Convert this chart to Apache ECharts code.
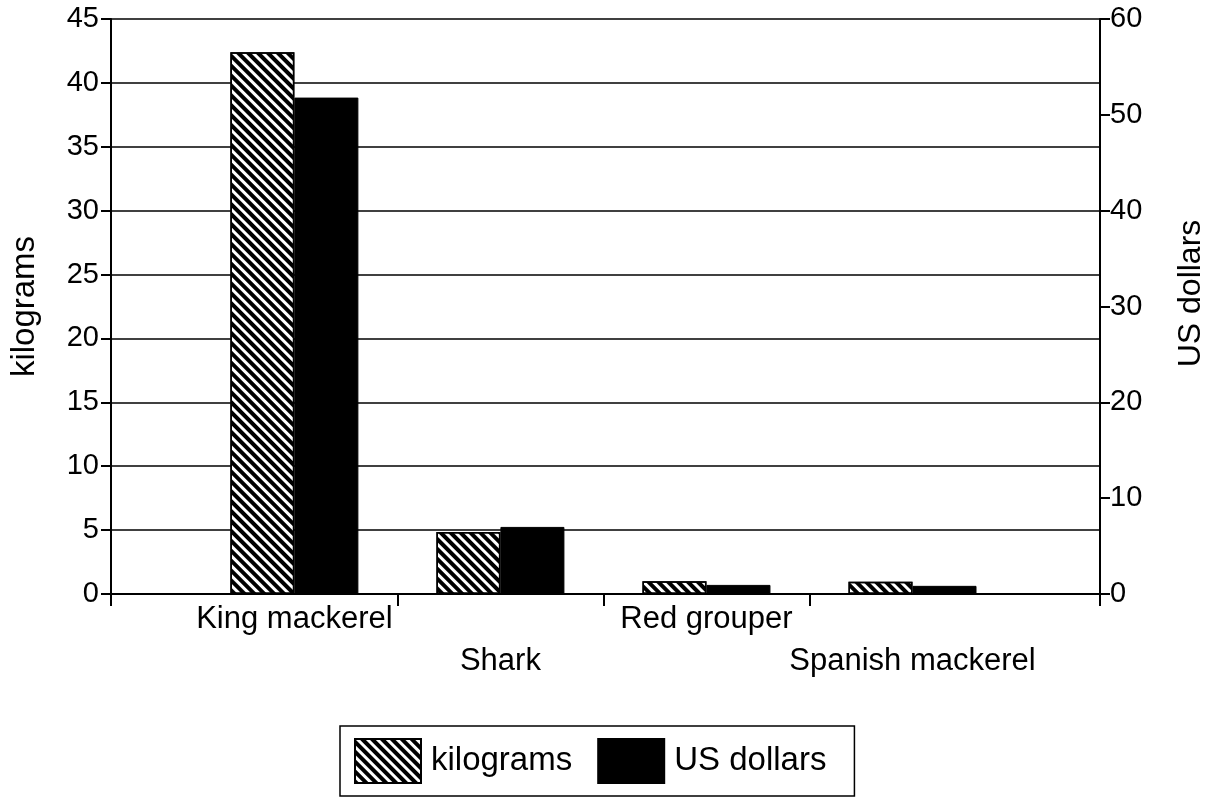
<!DOCTYPE html>
<html>
<head>
<meta charset="utf-8">
<script src="https://cdn.jsdelivr.net/npm/echarts@6/dist/echarts.min.js"></script>
<style>
  html, body { margin: 0; padding: 0; background: #fff; }
  #chart { width: 1217px; height: 800px; }
</style>
</head>
<body>
<div id="chart"></div>
<script>
// fish species and values
const categories = ["King mackerel", "Shark", "Red grouper", "Spanish mackerel"];
const kilograms = [42.4, 4.85, 1.0, 0.95];
const usDollars = [51.8, 7.0, 0.95, 0.85];
const kgTicks = [0, 5, 10, 15, 20, 25, 30, 35, 40, 45];
const usdTicks = [0, 10, 20, 30, 40, 50, 60];

const font = "Liberation Sans";
// category slots on a value axis, the plot has padding on both sides
const offset = 0.89;
const centers = categories.map((c, i) => i + offset);
const bounds = [0, 1.39, 2.39, 3.39, 4.8];

const chart = echarts.init(document.getElementById("chart"));

const option = {
  backgroundColor: "#fff",
  animation: false,
  textStyle: { fontFamily: font, color: "#000" },
  grid: { left: 110, right: 117, top: 19, bottom: 206 },
  legend: {
    left: 340,
    top: 726,
    icon: "rect",
    itemWidth: 66,
    itemHeight: 44,
    itemGap: 25,
    padding: [12, 28, 12, 14],
    borderColor: "#000",
    borderWidth: 1.5,
    textStyle: { fontSize: 33, color: "#000", fontFamily: font, padding: [0, 0, 0, 5] },
    data: ["kilograms", "US dollars"],
  },
  xAxis: {
    type: "value",
    min: 0,
    max: 4.8,
    axisLine: { show: true, onZero: false, lineStyle: { color: "#000", width: 2 } },
    axisTick: { show: true, customValues: bounds, length: 12, lineStyle: { color: "#000", width: 2 } },
    splitLine: { show: false },
    axisLabel: {
      customValues: centers,
      margin: 10,
      formatter: (v) => {
        const i = Math.round(v - offset);
        return i % 2 === 0 ? "{hi|" + categories[i] + "}" : "{lo|" + categories[i] + "}";
      },
      rich: {
        hi: { fontSize: 31, fontFamily: font, color: "#000" },
        lo: { fontSize: 31, fontFamily: font, color: "#000", padding: [42, 0, 0, 0] },
      },
    },
  },
  yAxis: [
    {
      type: "value",
      position: "left",
      min: kgTicks[0],
      max: kgTicks[kgTicks.length - 1],
      interval: 5,
      name: "kilograms",
      nameLocation: "middle",
      nameGap: 70,
      nameTextStyle: { fontSize: 33, fontFamily: font, color: "#000" },
      axisLine: { show: true, lineStyle: { color: "#000", width: 2 } },
      axisTick: { show: true, length: 10, lineStyle: { color: "#000", width: 2 } },
      axisLabel: { fontSize: 29, color: "#000", margin: 12 },
      splitLine: { show: true, lineStyle: { color: "#000", width: 1.5 } },
    },
    {
      type: "value",
      position: "right",
      min: usdTicks[0],
      max: usdTicks[usdTicks.length - 1],
      interval: 10,
      name: "US dollars",
      nameLocation: "middle",
      nameGap: 75,
      nameTextStyle: { fontSize: 32, fontFamily: font, color: "#000", padding: [0, 0, 0, 26] },
      axisLine: { show: true, lineStyle: { color: "#000", width: 2 } },
      axisTick: { show: true, length: 10, lineStyle: { color: "#000", width: 2 } },
      axisLabel: { fontSize: 29, color: "#000", margin: 10 },
      splitLine: { show: false },
    },
  ],
  series: [
    {
      name: "kilograms",
      type: "bar",
      yAxisIndex: 0,
      barWidth: 64,
      barGap: "0%",
      data: kilograms.map((v, i) => [centers[i], v]),
      itemStyle: {
        color: "#fff",
        borderColor: "#000",
        borderWidth: 1.5,
        decal: {
          symbol: "rect",
          symbolSize: 1,
          dashArrayX: [1, 0],
          dashArrayY: [4, 3],
          rotation: Math.PI / 4,
          color: "#000",
        },
      },
    },
    {
      name: "US dollars",
      type: "bar",
      yAxisIndex: 1,
      barWidth: 64,
      barGap: "0%",
      data: usDollars.map((v, i) => [centers[i], v]),
      itemStyle: { color: "#000", borderColor: "#000", borderWidth: 1 },
    },
  ],
};

chart.setOption(option);
</script>
</body>
</html>
